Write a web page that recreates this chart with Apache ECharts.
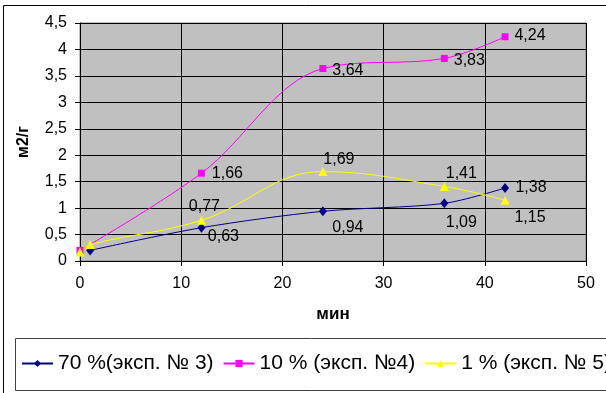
<!DOCTYPE html>
<html>
<head>
<meta charset="utf-8">
<script src="https://cdn.jsdelivr.net/npm/echarts@6/dist/echarts.min.js"></script>
<style>
  html, body { margin: 0; padding: 0; background: #ffffff; }
  #chart { width: 606px; height: 393px; }
</style>
</head>
<body>
<div id="chart"></div>
<script>
// Specific surface (м2/г) versus time (мин) for three experiments
const seriesNames = ['70 %(эксп. № 3)', '10 % (эксп. №4)', '1 % (эксп. № 5)'];

const minutes70 = [1, 12, 24, 36, 42];
const values70  = [0.2, 0.63, 0.94, 1.09, 1.38];

const minutes10 = [0, 12, 24, 36, 42];
const values10  = [0.2, 1.66, 3.64, 3.83, 4.24];

const minutes1 = [0, 1, 12, 24, 36, 42];
const values1  = [0.17, 0.31, 0.77, 1.69, 1.41, 1.15];

const xMin = 0, xMax = 50, xStep = 10;
const yMin = 0, yMax = 4.5, yStep = 0.5;

// Where each value label sits relative to its marker (null = no label)
const labelShift70 = [null, [22, 9], [25, 16], [17, 19], [26, 0]];
const labelShift10 = [null, [26, 0], [25, 2], [25, 2], [25, -1]];
const labelShift1  = [null, null, [3, -14], [16, -12], [17, -13], [25, 17]];

const FONT = '"Liberation Sans", Arial, sans-serif';
const comma = v => String(v).replace('.', ',');

function buildPoints(xs, ys, shifts) {
  return xs.map((x, i) => {
    const item = { value: [x, ys[i]] };
    if (shifts[i]) {
      item.label = { show: true, position: 'inside', offset: shifts[i] };
    }
    return item;
  });
}

function lineSeries(name, xs, ys, shifts, color, symbol, size, smooth) {
  return {
    name: name,
    type: 'line',
    data: buildPoints(xs, ys, shifts),
    smooth: smooth,
    symbol: symbol,
    symbolSize: size,
    showAllSymbol: true,
    lineStyle: { color: color, width: 1 },
    itemStyle: { color: color, borderWidth: 0 },
    label: {
      show: false,
      color: '#000',
      fontFamily: FONT,
      fontSize: 16,
      formatter: p => comma(p.value[1])
    },
    emphasis: { disabled: true },
    animation: false
  };
}

const chart = echarts.init(document.getElementById('chart'), null, { renderer: 'canvas' });

chart.setOption({
  backgroundColor: '#ffffff',
  animation: false,
  grid: {
    left: 80, top: 23, right: 20, bottom: 132,
    show: true,
    backgroundColor: '#c0c0c0',
    borderColor: '#808080',
    borderWidth: 1
  },
  xAxis: {
    type: 'value',
    min: xMin, max: xMax, interval: xStep,
    name: 'мин',
    nameLocation: 'middle',
    nameGap: 45,
    nameTextStyle: { fontFamily: FONT, fontSize: 17, fontWeight: 'bold', color: '#000' },
    axisLine: { show: true, onZero: false, lineStyle: { color: '#000', width: 1 } },
    axisTick: { show: true, length: 5, lineStyle: { color: '#000' } },
    axisLabel: { fontFamily: FONT, fontSize: 16, color: '#000', margin: 15, formatter: comma },
    splitLine: { show: true, lineStyle: { color: '#000', width: 1 } }
  },
  yAxis: {
    type: 'value',
    min: yMin, max: yMax, interval: yStep,
    name: 'м2/г',
    nameLocation: 'middle',
    nameGap: 48,
    nameTextStyle: { fontFamily: FONT, fontSize: 16, fontWeight: 'bold', color: '#000' },
    axisLine: { show: true, lineStyle: { color: '#000', width: 1 } },
    axisTick: { show: true, length: 5, lineStyle: { color: '#000' } },
    axisLabel: { fontFamily: FONT, fontSize: 16, color: '#000', margin: 13, formatter: comma },
    splitLine: { show: true, lineStyle: { color: '#000', width: 1 } }
  },
  legend: {
    left: 21,
    top: 353,
    width: 660,
    padding: 0,
    itemGap: 9,
    itemWidth: 31,
    itemHeight: 9,
    textStyle: { fontFamily: FONT, fontSize: 21, color: '#000' },
    data: seriesNames
  },
  graphic: [
    {
      type: 'rect',
      silent: true,
      shape: { x: 3.5, y: 5.5, width: 700, height: 500 },
      style: { fill: 'none', stroke: '#000', lineWidth: 1 }
    },
    {
      type: 'rect',
      silent: true,
      shape: { x: 15.5, y: 338.5, width: 700, height: 52 },
      style: { fill: 'none', stroke: '#404040', lineWidth: 1 }
    }
  ],
  series: [
    lineSeries(seriesNames[0], minutes70, values70, labelShift70, '#000080', 'diamond', [8, 10], 0.3),
    lineSeries(seriesNames[1], minutes10, values10, labelShift10, '#ff00ff', 'rect', 7, 0.35),
    lineSeries(seriesNames[2], minutes1, values1, labelShift1, '#ffff00', 'triangle', 9, 0.4)
  ]
});
</script>
</body>
</html>
